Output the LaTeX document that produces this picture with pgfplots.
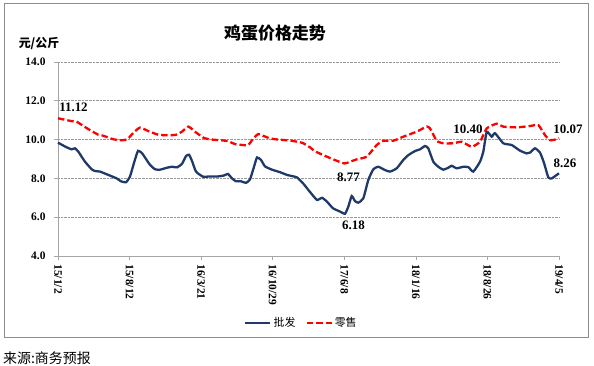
\documentclass[border=0pt]{standalone}
\usepackage{fontspec}
\setmainfont{Liberation Serif}
\newfontfamily\cjk{Noto Sans CJK SC}
\usepackage{pgfplots}
\pgfplotsset{compat=1.18}
\definecolor{wblue}{RGB}{31,58,104}
\definecolor{rred}{RGB}{255,0,0}
\pgfplotstableread{
x y
0 9.84
8.7 9.60
13.7 9.50
17 9.55
20.3 9.38
27 8.86
33.7 8.47
37 8.38
42 8.35
50.3 8.18
58.7 8.00
63 7.85
68 7.80
72 8.10
76 8.80
80 9.42
84 9.30
88 9.00
92 8.70
97 8.47
102 8.45
109 8.55
114 8.60
119 8.57
124 8.75
128 9.15
131 9.22
134 8.90
138 8.35
145 8.09
152 8.10
160 8.10
166 8.15
170 8.23
174 8.00
178 7.85
183 7.85
188 7.77
192 7.95
196 8.60
199 9.08
203 8.95
207 8.62
214 8.45
222 8.32
229 8.18
234 8.12
239 8.05
245 7.75
252 7.30
259 6.89
264 7.00
269 6.80
275 6.46
282 6.29
287 6.18
290.3 6.54
293.7 7.09
297 6.83
300.3 6.75
305.3 6.97
310.3 7.92
315.3 8.47
320.3 8.60
327 8.43
332 8.35
338.7 8.52
345.3 8.95
350.3 9.20
357 9.41
362 9.50
367 9.67
370.3 9.55
375.3 8.86
380.3 8.60
385.3 8.45
390.3 8.55
393.7 8.65
398.7 8.52
405.3 8.60
410.3 8.58
415.3 8.35
422 8.86
425.3 9.38
428.7 10.40
433.7 10.15
437 10.33
445.3 9.81
453.7 9.72
462 9.43
468.7 9.29
472 9.33
477 9.55
482 9.33
486 8.80
490.3 8.05
493.7 8.00
498.7 8.18
501 8.26
}\wholesale
\pgfplotstableread{
x y
0 11.10
13.7 10.95
18.7 10.92
27 10.65
32 10.49
40.3 10.25
45.3 10.20
55 10.02
62 9.97
67 9.98
71 10.10
75.3 10.35
82 10.62
90.3 10.44
100.3 10.25
110 10.22
118 10.25
123.7 10.40
130.3 10.67
137 10.41
145.3 10.10
152 10.01
162 9.97
170 9.92
177 9.77
185 9.72
190.3 9.72
195.3 10.06
200.3 10.29
205 10.20
212 10.06
218.7 10.01
232 9.95
240.3 9.88
245 9.82
252 9.60
257 9.40
265.3 9.20
275.3 8.98
286.3 8.77
292 8.86
298.7 8.98
308.7 9.12
318.7 9.72
325.3 9.94
335.3 9.94
345.3 10.15
358.7 10.41
368.7 10.67
372 10.58
378.7 9.94
385.3 9.81
395.3 9.81
403.7 9.89
413.7 9.63
422 9.89
428.7 10.58
438.7 10.82
445.3 10.67
458.7 10.63
472 10.70
480.3 10.75
487 10.23
492 9.97
497 10.00
501 10.07
}\retail
\begin{document}
\begin{tikzpicture}
\useasboundingbox (0,0) rectangle (594bp,366bp);
\draw[gray!90, line width=0.8bp] (4.5bp,29bp) rectangle (588bp,362.5bp);
\node[font=\cjk\bfseries\fontsize{17}{17}\selectfont] at (275bp,333bp) {鸡蛋价格走势};
\node[font=\cjk\bfseries\fontsize{12}{12}\selectfont] at (39bp,322bp) {元/公斤};
\node[anchor=west,font=\cjk\fontsize{14}{14}\selectfont,inner sep=0pt] at (3bp,8bp) {来源:商务预报};
\begin{axis}[
  at={(58bp,110bp)}, anchor=south west,
  scale only axis, width=501bp, height=194bp,
  xmin=0, xmax=501, ymin=4, ymax=14,
  clip=false,
  axis x line*=bottom, axis y line*=left,
  axis line style={gray!70, line width=0.7bp, -},
  ytick={4,6,8,10,12,14},
  ymajorgrids, grid style={densely dotted, gray!80, line width=0.6bp},
  yticklabel style={xshift=-5bp, /pgf/number format/.cd, fixed, fixed zerofill, precision=1, assume math mode=true},
  ticklabel style={font=\bfseries\fontsize{11.5}{11.5}\selectfont},
  xtick={0,71.57,143.14,214.71,286.29,357.86,429.43,501},
  xticklabels={15/1/2,15/8/12,16/3/21,16/10/29,17/6/8,18/1/16,18/8/26,19/4/5},
  xticklabel style={rotate=-90, anchor=west, xshift=1bp},
  tick style={gray!70, line width=0.7bp},
  tick align=outside, major tick length=4bp,
  legend style={at={(0.486,-0.345)}, anchor=center, draw=none, fill=none,
    legend columns=2, font=\cjk\fontsize{11}{11}\selectfont,
    /tikz/every even column/.append style={column sep=8bp}},
  legend image code/.code={\draw[#1] (0bp,0bp) -- (25bp,0bp);},
]
\addplot[wblue, line width=2.3bp, smooth, tension=0.3] table[x=x,y=y] {\wholesale};
\addlegendentry{批发}
\addplot[rred, line width=2.3bp, dash pattern=on 6.5bp off 3bp, smooth, tension=0.3] table[x=x,y=y] {\retail};
\addlegendentry{零售}
\node[font=\bfseries\fontsize{13}{13}\selectfont] at (axis cs:15.5,11.68) {11.12};
\node[font=\bfseries\fontsize{13}{13}\selectfont] at (axis cs:290.5,8.07) {8.77};
\node[font=\bfseries\fontsize{13}{13}\selectfont] at (axis cs:295.5,5.60) {6.18};
\node[font=\bfseries\fontsize{13}{13}\selectfont] at (axis cs:410,10.55) {10.40};
\node[font=\bfseries\fontsize{13}{13}\selectfont] at (axis cs:510,10.55) {10.07};
\node[font=\bfseries\fontsize{13}{13}\selectfont] at (axis cs:507,8.79) {8.26};
\end{axis}
\end{tikzpicture}
\end{document}
